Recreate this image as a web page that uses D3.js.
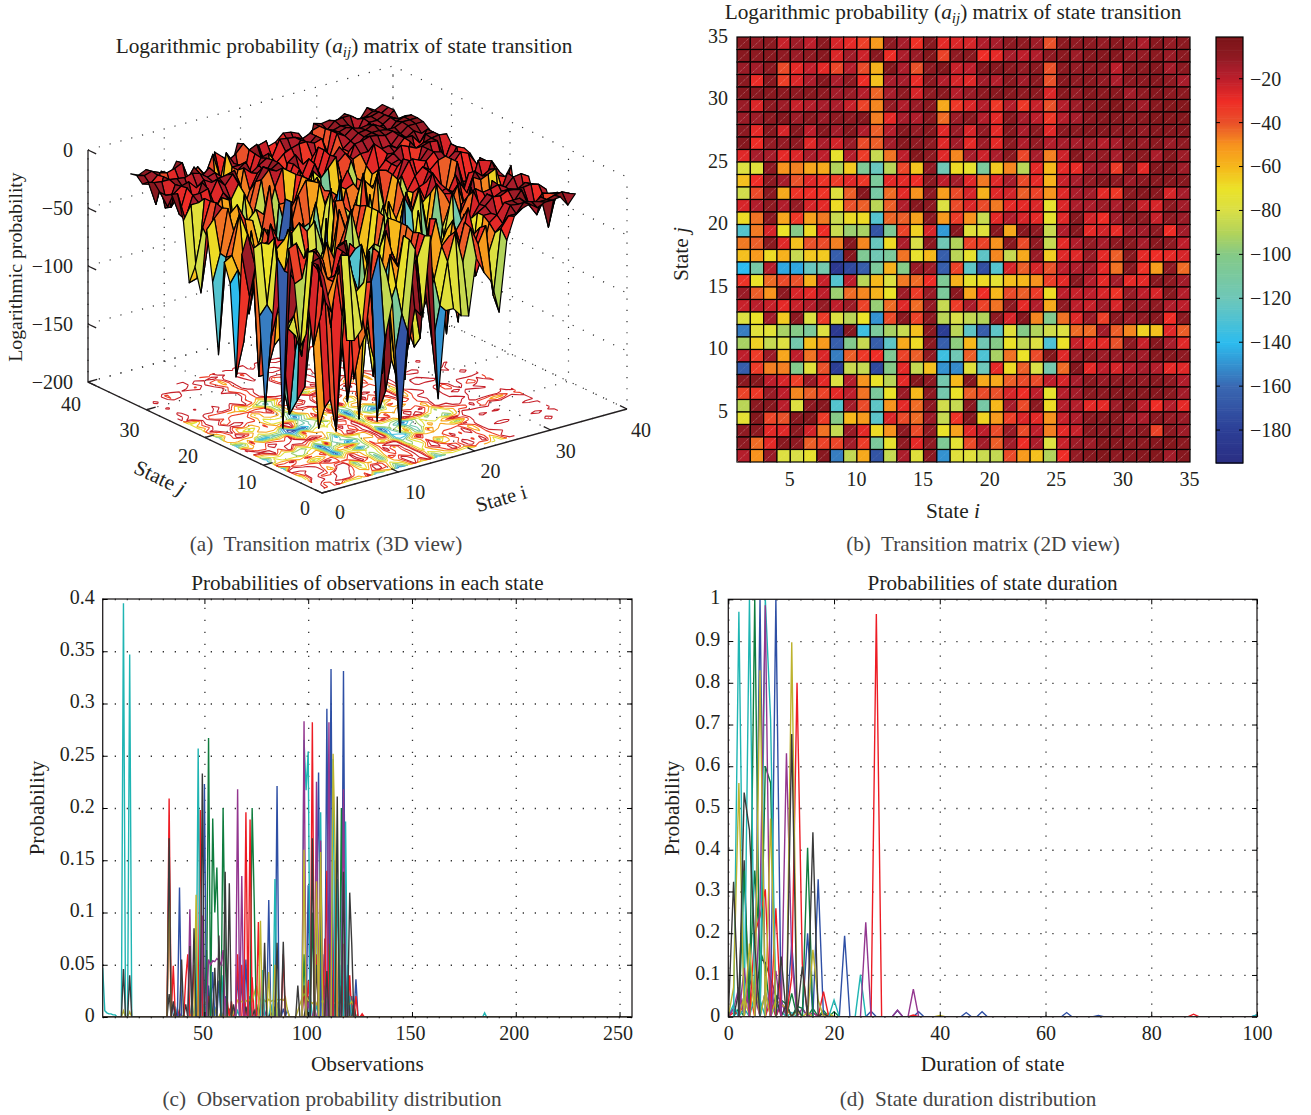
<!DOCTYPE html>
<html>
<head>
<meta charset="utf-8">
<script src="https://cdn.jsdelivr.net/npm/d3@7"></script>
<style>
  body { margin: 0; background: #fff; }
  text { font-family: "Liberation Serif", serif; fill: #231f20; white-space: pre; }
  .caption { fill: #444; }
</style>
</head>
<body>
<svg id="chart" width="1311" height="1115"></svg>
<script>
// log probability matrix, top row is state j = 34, columns are state i = 1..34
var aijRows = [
  [-8,-11,-8,-22,-13,-20,-8,-25,-28,-35,-52,-9,-15,-31,-7,-28,-26,-25,-17,-15,-9,-10,-13,-40,-8,-10,-9,-11,-7,-11,-16,-7,-11,-8],
  [-7,-9,-7,-10,-12,-10,-7,-26,-14,-23,-7,-30,-16,-12,-5,-36,-10,-8,-30,-28,-15,-20,-17,-10,-8,-13,-7,-6,-6,-11,-11,-8,-12,-8],
  [-12,-14,-8,-38,-28,-21,-28,-37,-18,-38,-58,-5,-16,-40,-8,-5,-22,-20,-6,-7,-8,-11,-8,-40,-8,-11,-9,-10,-20,-8,-8,-6,-14,-8],
  [-8,-29,-7,-35,-26,-16,-6,-16,-10,-30,-62,-15,-15,-29,-9,-18,-25,-27,-14,-18,-8,-14,-8,-40,-7,-10,-8,-11,-16,-9,-9,-6,-10,-15],
  [-6,-7,-7,-8,-9,-7,-9,-14,-12,-18,-43,-15,-10,-25,-10,-8,-18,-12,-9,-7,-7,-10,-8,-26,-7,-11,-6,-8,-7,-14,-10,-6,-9,-8],
  [-12,-26,-9,-13,-22,-18,-15,-16,-22,-36,-48,-11,-17,-12,-8,-56,-33,-26,-18,-33,-18,-33,-22,-40,-18,-13,-8,-7,-4,-8,-14,-7,-5,-5],
  [-12,-13,-8,-6,-13,-8,-12,-10,-9,-7,-47,-28,-15,-17,-7,-44,-13,-8,-18,-28,-7,-15,-20,-33,-18,-15,-9,-7,-7,-8,-8,-5,-5,-5],
  [-9,-28,-7,-25,-6,-20,-7,-14,-6,-17,-42,-18,-7,-11,-7,-27,-12,-25,-11,-28,-7,-16,-8,-27,-9,-8,-6,-7,-9,-7,-11,-6,-6,-6],
  [-6,-30,-11,-11,-9,-27,-16,-24,-12,-38,-42,-14,-7,-10,-10,-27,-14,-28,-13,-28,-9,-17,-11,-18,-15,-15,-13,-18,-15,-8,-12,-8,-12,-10],
  [-27,-15,-15,-28,-26,-16,-20,-72,-18,-34,-85,-45,-20,-5,-10,-27,-48,-15,-23,-16,-8,-37,-15,-47,-23,-6,-12,-11,-15,-8,-8,-16,-6,-13],
  [-78,-76,-9,-50,-47,-55,-56,-90,-64,-105,-122,-88,-37,-63,-10,-118,-68,-72,-108,-64,-48,-88,-28,-60,-28,-29,-14,-15,-34,-9,-28,-6,-6,-13],
  [-62,-30,-9,-15,-40,-27,-32,-34,-27,-33,-108,-28,-28,-30,-9,-20,-14,-27,-46,-27,-15,-38,-28,-58,-22,-15,-11,-6,-9,-12,-9,-7,-6,-7],
  [-82,-38,-8,-56,-32,-30,-32,-77,-42,-6,-112,-44,-28,-50,-9,-53,-38,-25,-58,-27,-24,-42,-36,-50,-27,-16,-14,-28,-33,-8,-6,-7,-25,-15],
  [-25,-17,-10,-17,-11,-25,-28,-68,-40,-42,-88,-42,-17,-6,-9,-78,-38,-26,-38,-46,-28,-28,-26,-72,-26,-16,-16,-13,-16,-8,-22,-25,-9,-14],
  [-68,-45,-8,-55,-33,-54,-46,-84,-68,-68,-128,-43,-42,-54,-8,-52,-34,-50,-84,-28,-17,-25,-28,-72,-27,-7,-24,-30,-14,-8,-10,-22,-9,-12],
  [-128,-46,-25,-70,-100,-68,-30,-84,-95,-92,-170,-106,-36,-66,-25,-148,-6,-76,-76,-6,-56,-7,-9,-84,-17,-6,-28,-24,-29,-14,-14,-9,-30,-14],
  [-46,-42,-8,-27,-62,-40,-38,-47,-6,-48,-122,-68,-16,-80,-8,-118,-90,-36,-36,-50,-7,-38,-10,-85,-28,-17,-11,-15,-9,-7,-15,-7,-10,-20],
  [-62,-52,-68,-58,-85,-64,-64,-165,-6,-105,-118,-108,-45,-72,-60,-165,-88,-72,-125,-48,-85,-56,-12,-65,-27,-27,-12,-28,-42,-7,-28,-30,-28,-25],
  [-140,-112,-18,-145,-145,-122,-115,-185,-175,-165,-108,-58,-100,-12,-13,-165,-36,-125,-172,-128,-25,-42,-25,-40,-20,-17,-14,-28,-45,-7,-32,-53,-9,-44],
  [-32,-70,-44,-38,-40,-58,-22,-128,-20,-88,-60,-78,-46,-44,-30,-105,-58,-72,-68,-74,-62,-60,-50,-35,-28,-7,-18,-28,-14,-28,-28,-7,-9,-14],
  [-12,-42,-50,-9,-25,-28,-20,-95,-44,-48,-58,-70,-13,-34,-12,-108,-7,-55,-30,-60,-38,-42,-34,-68,-20,-22,-20,-25,-32,-12,-20,-25,-7,-18],
  [-22,-19,-22,-28,-22,-18,-11,-20,-13,-36,-96,-44,-27,-44,-11,-85,-34,-16,-36,-45,-10,-28,-17,-56,-10,-20,-22,-14,-25,-8,-14,-10,-17,-20],
  [-78,-70,-14,-64,-9,-78,-34,-78,-88,-70,-150,-38,-8,-36,-8,-88,-80,-86,-90,-10,-25,-6,-48,-102,-45,-27,-12,-35,-9,-13,-10,-7,-30,-8],
  [-155,-76,-75,-92,-100,-108,-78,-185,-6,-135,-108,-92,-84,-62,-8,-182,-88,-125,-165,-125,-76,-100,-90,-82,-78,-44,-44,-14,-42,-48,-66,-62,-27,-42],
  [-92,-66,-85,-78,-115,-62,-52,-165,-102,-85,-165,-125,-56,-68,-8,-165,-98,-60,-118,-100,-70,-86,-78,-130,-70,-22,-28,-28,-40,-9,-22,-6,-15,-27],
  [-20,-34,-13,-55,-20,-45,-26,-155,-42,-33,-30,-105,-36,-42,-10,-135,-118,-42,-130,-92,-45,-70,-38,-5,-27,-13,-8,-13,-12,-10,-14,-7,-6,-10],
  [-165,-34,-47,-47,-102,-76,-40,-180,-84,-85,-175,-100,-28,-85,-62,-150,-152,-76,-120,-28,-68,-42,-80,-115,-44,-6,-28,-20,-25,-18,-15,-18,-28,-27],
  [-8,-5,-20,-25,-35,-12,-28,-78,-18,-50,-70,-88,-28,-5,-9,-115,-60,-6,-56,-56,-42,-38,-38,-20,-25,-15,-8,-12,-9,-9,-11,-7,-10,-17],
  [-36,-33,-12,-20,-48,-42,-36,-28,-20,-45,-108,-70,-12,-60,-9,-115,-70,-42,-38,-40,-25,-30,-20,-72,-18,-14,-8,-9,-6,-7,-7,-6,-8,-14],
  [-88,-8,-7,-19,-78,-9,-7,-128,-14,-38,-125,-50,-28,-44,-9,-82,-85,-8,-112,-60,-15,-38,-8,-68,-18,-18,-28,-28,-13,-5,-20,-30,-18,-28],
  [-74,-5,-37,-40,-7,-5,-34,-100,-60,-52,-126,-26,-38,-44,-12,-85,-32,-6,-66,-52,-35,-26,-28,-50,-22,-17,-8,-8,-8,-14,-16,-9,-11,-12],
  [-10,-8,-28,-27,-8,-24,-45,-85,-12,-28,-68,-50,-9,-38,-10,-70,-54,-27,-20,-38,-12,-38,-20,-47,-28,-22,-8,-9,-10,-12,-8,-36,-9,-13],
  [-10,-44,-28,-7,-9,-42,-36,-37,-14,-34,-108,-72,-10,-28,-10,-105,-74,-38,-14,-42,-14,-30,-16,-78,-22,-13,-13,-5,-6,-8,-8,-6,-5,-8],
  [-18,-50,-12,-78,-80,-72,-7,-155,-86,-56,-170,-85,-16,-76,-8,-150,-76,-76,-84,-86,-38,-52,-62,-90,-30,-11,-6,-4,-9,-6,-6,-5,-14,-6]
];

var colorStops = [-195, -180, -160, -140, -120, -100, -90, -80, -70, -60, -50, -40, -30, -20, -15, -10, -1];
var colorHexes = ['#2b2e83', '#2c3f96', '#3a68b2', '#2dbcee', '#6ec7b9', '#85ca87', '#b2d35a', '#d9df47', '#ebe228', '#f6b81b', '#f7931e', '#e9512a', '#ee2c26', '#bd1e2b', '#a71d2b', '#8f1a22', '#7b1418'];

var surfaceZTicks = [0, -50, -100, -150, -200];
var surfaceTicks = [0, 10, 20, 30, 40];
var contourLevels = [-175, -155, -135, -115, -95, -75, -55, -35, -22];
var heatTicks = [5, 10, 15, 20, 25, 30, 35];
var barTicks = [-20, -40, -60, -80, -100, -120, -140, -160, -180];

var obsXTicks = [50, 100, 150, 200, 250];
var obsYTicks = [0, 0.05, 0.1, 0.15, 0.2, 0.25, 0.3, 0.35, 0.4];
var durXTicks = [0, 20, 40, 60, 80, 100];
var durYTicks = [0, 0.1, 0.2, 0.3, 0.4, 0.5, 0.6, 0.7, 0.8, 0.9, 1];

// line colours in plotting order
var lineColors = ['#2e4fa5', '#0f7d3e', '#ed1c24', '#1fb5b3', '#93368f', '#bdb32e', '#3a3a3a'];

// observation probabilities: [observation, probability], anything not listed is 0
var obsBlue = [
  [[111,.333],[117,.331],[109,.295],[105,.234],[85,.221],[50,.223],[38,.124],[81,.112],[100,.126],[104,.092],[54,.043],[57,.035],[70,.055],[123,.036]],
  [[48,.055],[52,.03],[60,.02],[66,.04],[68,.035],[72,.02],[88,.008],[90,.007],[98,.03],[107,.06],[113,.118],[119,.05],[121,.02]]
];
var obsGreen = [
  [[52,.267],[54,.19],[55,.1],[56,.143],[57,.05],[59,.2],[60,.06],[73,.2],[74,.11],[116,.2],[106,.1],[98,.06],[102,.1],[110,.07]],
  [[47,.03],[50,.012],[62,.008],[76,.012],[84,.01],[100,.02],[108,.03],[112,.045],[118,.03],[122,.012]]
];
var obsRed = [
  [[33,.209],[35,.049],[48,.198],[70,.196],[72,.189],[102,.282],[66,.06],[68,.05],[76,.091],[88,.06],[42,.06],[41,.036],[113,.15],[109,.14],[117,.07],[123,.02],[126,.003]],
  [[33,.143],[37,.008],[45,.05],[52,.02],[61,.016],[63,.015],[69,.04],[73,.038],[78,.03],[98,.03],[100,.035],[104,.06],[108,.075],[120,.04]]
];
var obsCyan = [
  [[1,.047],[2,.006],[3,.004],[4,.003],[5,.003],[6,.002],[7,.002],[11,.396],[14,.347],[47,.257],[98,.265],[100,.254],[99,.217],[106,.196],[112,.247],[118,.187],[84,.132],[114,.132],[78,.045],[59,.04],[185,.004]],
  [[36,.01],[44,.014],[49,.016],[51,.012],[53,.014],[55,.01],[66,.006],[72,.006],[82,.012],[86,.008],[101,.02],[104,.012],[110,.05],[116,.05],[120,.02]]
];
var obsMagenta = [
  [[98,.283],[66,.218],[68,.135],[43,.103],[49,.097],[110,.282],[104,.225],[106,.169],[117,.218],[59,.064],[52,.055],[53,.05],[54,.054],[55,.053],[56,.056],[57,.054],[58,.05]],
  [[35,.012],[38,.004],[46,.02],[60,.018],[64,.006],[71,.012],[75,.008],[79,.006],[85,.014],[100,.014],[103,.01],[108,.022],[115,.012],[119,.01]]
];
var obsOlive = [
  [[33,.133],[46,.117],[77,.092],[98,.16],[106,.158],[112,.252],[104,.13],[113,.156],[84,.05],[81,.043]],
  [[11,.006],[14,.005],[40,.002],[44,.004],[46,.006],[50,.012],[51,.015],[53,.013],[55,.008],[58,.005],[60,.004],[64,.004],[65,.01],[66,.016],[67,.014],[68,.015],[69,.013],[70,.016],[71,.014],[72,.017],[73,.015],[74,.022],[75,.03],[76,.02],[77,.016],[78,.012],[79,.016],[80,.014],[81,.017],[82,.015],[83,.016],[84,.015],[85,.017],[86,.016],[87,.017],[88,.016],[89,.019],[90,.006],[95,.006],[96,.012],[97,.018],[98,.022],[99,.02],[100,.016],[101,.015],[102,.013],[103,.015],[104,.012],[105,.018],[106,.014],[107,.016],[108,.013],[109,.018],[110,.02],[111,.017],[112,.014],[113,.013],[114,.016],[115,.012],[116,.014],[117,.012],[118,.016],[119,.013],[120,.012],[121,.015],[122,.01]]
];
var obsDark = [
  [[33,.171],[49,.233],[11,.046],[14,.04],[45,.085],[43,.068],[39,.055],[60,.139],[62,.128],[57,.078],[55,.047],[79,.071],[85,.071],[88,.072],[102,.171],[114,.211],[120,.119],[121,.069],[117,.139],[95,.03],[109,.044],[35,.015]],
  [[33,.022],[36,.006],[41,.012],[47,.04],[51,.064],[53,.028],[64,.012],[70,.01],[74,.006],[82,.004],[99,.012],[104,.05],[111,.04],[116,.03],[119,.04],[122,.012]]
];

// state duration probabilities: [duration, probability]
var durBlue = [
  [[6,1],[9,1],[17,.329],[15,.2],[22,.194],[12,.174],[27,.013],[32,.015],[36,.012],[45,.01],[48,.012],[64,.01]],
  [[1,.02],[3,.05],[4,.03],[5,.08],[7,.06],[10,.04],[13,.02],[70,.003],[100,.004]]
];
var durGreen = [
  [[5,1],[7,.6],[8,.56],[15,.405],[3,.35],[12,.056]],
  [[2,.02],[4,.08],[5,.35],[6,.16],[7,.12],[9,.05],[10,.04],[11,.03],[13,.025],[14,.02],[16,.02],[18,.015],[20,.012]]
];
var durRed = [
  [[13,.8],[28,.965],[7,.305],[9,.26],[18,.06],[14,.126],[5,.2],[6,.24],[12,.096],[35,.004],[88,.006]],
  [[1,.01],[2,.008],[3,.03],[4,.06],[8,.04],[10,.03],[11,.02],[16,.01]]
];
var durCyan = [
  [[2,.97],[4,1],[7,1],[8,.712],[20,.04],[25,.1]],
  [[1,.03],[3,.02],[5,.05],[6,.04],[9,.03],[10,.012],[12,.01],[100,.004]]
];
var durMagenta = [
  [[7,.986],[11,.631],[26,.226],[35,.066],[32,.016],[6,.27],[9,.11],[12,.144],[3,.117]],
  [[1,.02],[2,.07],[4,.09],[5,.05],[8,.08],[10,.04],[14,.02],[16,.01]]
];
var durOlive = [
  [[12,.897],[6,.83],[2,.56],[8,.475],[16,.16],[4,.175],[1,.07],[17,.04]],
  [[3,.05],[5,.1],[7,.06],[9,.04],[10,.03],[11,.02],[13,.015],[15,.01],[19,.008],[40,.003]]
];
var durDark = [
  [[12,.677],[16,.442],[3,.537],[4,.447],[1,.323],[5,.172],[10,.144],[14,.12]],
  [[3,.375],[2,.06],[6,.14],[7,.13],[8,.09],[9,.05],[11,.03],[13,.02],[18,.008]]
];

var svg = d3.select('#chart');
var colorOf = d3.scaleLinear().domain(colorStops).range(colorHexes).clamp(true);

function minus(d) {
  return String(d).replace('-', '\u2212');
}

function title(cx, cy) {
  var t = svg.append('text').attr('x', cx).attr('y', cy).attr('text-anchor', 'middle').style('font-size', '21.3px');
  t.append('tspan').text('Logarithmic probability (');
  t.append('tspan').style('font-style', 'italic').text('a');
  t.append('tspan').style('font-style', 'italic').style('font-size', '15px').attr('dy', 4).text('ij');
  t.append('tspan').attr('dy', -4).text(') matrix of state transition');
}

function label(str, x, y, rotate, size, italicTail) {
  var t = svg.append('text')
    .attr('transform', 'translate(' + x + ',' + y + ')rotate(' + (rotate || 0) + ')')
    .attr('text-anchor', 'middle')
    .style('font-size', (size || 21.4) + 'px');
  t.append('tspan').text(str);
  if (italicTail) {
    t.append('tspan').style('font-style', 'italic').text(' ' + italicTail);
  }
  return t;
}

function drawSurface() {
  var i3x = d3.scaleLinear().domain([0, 40]).range([0, 305]);
  var i3y = d3.scaleLinear().domain([0, 40]).range([0, -84]);
  var j3x = d3.scaleLinear().domain([0, 40]).range([0, -234]);
  var j3y = d3.scaleLinear().domain([0, 40]).range([0, -111]);
  var z3 = d3.scaleLinear().domain([-200, 0]).range([0, -232]);

  function project(i, j, z) {
    return [322 + i3x(i) + j3x(j), 493 + i3y(i) + j3y(j) + z3(z)];
  }
  function value(i, j) {
    return aijRows[34 - j][i - 1];
  }
  var seg = d3.line();
  var g = svg.append('g');

  // dotted box walls and floor
  var gridLines = [];
  surfaceTicks.forEach(function (t) {
    gridLines.push([[t, 0, -200], [t, 40, -200], [t, 40, 0]]);
    gridLines.push([[0, t, -200], [40, t, -200], [40, t, 0]]);
  });
  surfaceZTicks.forEach(function (z) {
    gridLines.push([[0, 40, z], [40, 40, z], [40, 0, z]]);
  });
  g.append('g').selectAll('path').data(gridLines).enter().append('path')
    .attr('d', function (d) {
      return seg(d.map(function (p) { return project(p[0], p[1], p[2]); }));
    })
    .attr('fill', 'none')
    .attr('stroke', '#333')
    .attr('stroke-width', 1.2)
    .attr('stroke-dasharray', '1.2 10');

  // contour lines on the floor, the outline of the grid itself is skipped
  var n = aijRows[0].length;
  var flat = [];
  for (var row = 0; row < n; row++) {
    for (var col = 0; col < n; col++) {
      flat.push(value(col + 1, row + 1));
    }
  }
  var onEdge = function (p) {
    return p[0] <= 0 || p[0] >= n || p[1] <= 0 || p[1] >= n;
  };
  var floorPoint = function (p) {
    return project(Math.max(1, Math.min(n, p[0] + 0.5)), Math.max(1, Math.min(n, p[1] + 0.5)), -200);
  };
  var contours = d3.contours().size([n, n]).thresholds(contourLevels)(flat);
  g.append('g').selectAll('path').data(contours).enter().append('path')
    .attr('d', function (c) {
      var path = d3.path();
      c.coordinates.forEach(function (poly) {
        poly.forEach(function (ring) {
          ring.forEach(function (p, k) {
            if (k === 0) return;
            if (onEdge(p) && onEdge(ring[k - 1])) return;
            var a = floorPoint(ring[k - 1]);
            var b = floorPoint(p);
            path.moveTo(a[0], a[1]);
            path.lineTo(b[0], b[1]);
          });
        });
      });
      return path.toString();
    })
    .attr('fill', 'none')
    .attr('stroke', function (c) { return colorOf(c.value); })
    .attr('stroke-width', 1.1);

  // axes
  var axisG = g.append('g').attr('stroke', '#231f20').attr('fill', 'none');
  var axisLines = [
    [[0, 40, 0], [0, 40, -200], [0, 0, -200], [40, 0, -200]]
  ];
  surfaceTicks.forEach(function (t) {
    axisLines.push([[t, 0, -200], [t, 1.2, -200]]);
    axisLines.push([[0, t, -200], [1.2, t, -200]]);
  });
  surfaceZTicks.forEach(function (z) {
    axisLines.push([[0, 40, z], [0, 38.6, z]]);
  });
  axisG.selectAll('path').data(axisLines).enter().append('path')
    .attr('d', function (d) {
      return seg(d.map(function (p) { return project(p[0], p[1], p[2]); }));
    })
    .attr('stroke-width', 1.3);

  // faces back to front
  var faces = d3.cross(d3.range(n - 1, 0, -1), d3.range(n - 1, 0, -1));
  g.append('g').selectAll('path').data(faces).enter().append('path')
    .attr('d', function (d) {
      var i = d[0], j = d[1];
      return seg([
        project(i, j, value(i, j)),
        project(i + 1, j, value(i + 1, j)),
        project(i + 1, j + 1, value(i + 1, j + 1)),
        project(i, j + 1, value(i, j + 1))
      ]) + 'Z';
    })
    .attr('fill', function (d) { return colorOf(value(d[0], d[1])); })
    .attr('stroke', '#000')
    .attr('stroke-width', 1.2)
    .attr('stroke-linejoin', 'round');

  // tick labels
  surfaceTicks.forEach(function (t) {
    var pi = project(t, 0, -200);
    label(String(t), pi[0] + 18 - t * 0.1, pi[1] + 26 + t * 0.05, 0, 20);
    var pj = project(0, t, -200);
    label(String(t), pj[0] - 17, pj[1] + 22 + t * 0.175, 0, 20);
  });
  surfaceZTicks.forEach(function (z) {
    var p = project(0, 40, z);
    svg.append('text').attr('x', p[0] - 15).attr('y', p[1] + 7)
      .attr('text-anchor', 'end').style('font-size', '20px').text(minus(z));
  });

  label('State', 157, 484, 25, 21.4, 'j');
  label('State i', 503, 505, -16, 20.5);
  label('Logarithmic probability', 22, 267, -90, 19.8);
  title(344, 53);
  label('(a)  Transition matrix (3D view)', 326, 551, 0, 21.2).classed('caption', true);
}

function drawHeatmap() {
  var x = d3.scaleLinear().domain([1, 35]).range([737, 1190]);
  var y = d3.scaleLinear().domain([1, 35]).range([462, 37]);
  var cells = [];
  aijRows.forEach(function (row, r) {
    row.forEach(function (v, c) {
      cells.push({ i: c + 1, j: 34 - r, v: v });
    });
  });
  var g = svg.append('g');
  var cell = g.selectAll('g').data(cells).enter().append('g');
  cell.append('rect')
    .attr('x', function (d) { return x(d.i); })
    .attr('y', function (d) { return y(d.j + 1); })
    .attr('width', x(2) - x(1))
    .attr('height', y(1) - y(2))
    .attr('fill', function (d) { return colorOf(d.v); })
    .attr('stroke', '#000')
    .attr('stroke-width', 1.2);
  cell.append('line')
    .attr('x1', function (d) { return x(d.i); })
    .attr('y1', function (d) { return y(d.j); })
    .attr('x2', function (d) { return x(d.i + 1); })
    .attr('y2', function (d) { return y(d.j + 1); })
    .attr('stroke', '#fff')
    .attr('stroke-opacity', function (d) { return d.v > -45 ? 0.55 : 0.2; })
    .attr('stroke-width', 0.7)
    .attr('stroke-dasharray', '1 1');

  var xAxis = d3.axisBottom(x).tickValues(heatTicks).tickSize(0).tickPadding(10);
  var yAxis = d3.axisLeft(y).tickValues(heatTicks.concat([])).tickSize(0).tickPadding(9);
  styleAxis(svg.append('g').attr('transform', 'translate(0,462)').call(xAxis), -1, 0);
  styleAxis(svg.append('g').attr('transform', 'translate(737,0)').call(yAxis), 0, -1);

  label('State', 953, 518, 0, 21.4, 'i');
  label('State', 688, 254, -90, 21.4, 'j');
  title(953, 19);
  label('(b)  Transition matrix (2D view)', 983, 551, 0, 21.2).classed('caption', true);

  // colour bar
  var yc = d3.scaleLinear().domain([-195, -1]).range([463, 37]);
  var bar = svg.append('g');
  bar.selectAll('rect').data(d3.range(-195, -1)).enter().append('rect')
    .attr('x', 1216)
    .attr('y', function (d) { return yc(d + 1); })
    .attr('width', 27)
    .attr('height', yc(0) - yc(1) + 0.6)
    .attr('fill', function (d) { return colorOf(d + 0.5); });
  bar.append('rect').attr('x', 1216).attr('y', 37).attr('width', 27).attr('height', 426)
    .attr('fill', 'none').attr('stroke', '#000').attr('stroke-width', 1.2);
  var barAxis = d3.axisRight(yc).tickValues(barTicks).tickSize(0).tickPadding(7).tickFormat(minus);
  styleAxis(svg.append('g').attr('transform', 'translate(1243,0)').call(barAxis));
  bar.selectAll('.bartick').data(barTicks).enter().append('path')
    .attr('d', function (d) {
      return 'M1216,' + yc(d) + 'h4M1243,' + yc(d) + 'h-4';
    })
    .attr('stroke', '#000');
}

function styleAxis(sel, dx, dy) {
  sel.select('.domain').remove();
  sel.selectAll('text')
    .style('font-size', '20px')
    .style('font-family', '"Liberation Serif", serif')
    .attr('fill', '#231f20')
    .attr('transform', 'translate(' + (dx || 0) + ',' + (dy || 0) + ')');
  return sel;
}

function peaksToLine(peaks, domain) {
  var lookup = new Map(peaks);
  return d3.range(domain[0], domain[1] + 1).map(function (x) {
    return [x, lookup.get(x) || 0];
  });
}

function drawLines(opts) {
  var x = d3.scaleLinear().domain(opts.xDomain).range([opts.left, opts.right]);
  var y = d3.scaleLinear().domain(opts.yDomain).range([opts.bottom, opts.top]);
  var g = svg.append('g');
  var clipId = opts.id + '-clip';
  g.append('clipPath').attr('id', clipId).append('rect')
    .attr('x', opts.left).attr('y', opts.top)
    .attr('width', opts.right - opts.left).attr('height', opts.bottom - opts.top);

  var gridFormat = function () { return ''; };
  var gridX = g.append('g').attr('transform', 'translate(0,' + opts.bottom + ')')
    .call(d3.axisBottom(x).tickValues(opts.xTicks).tickSize(opts.top - opts.bottom).tickFormat(gridFormat));
  var gridY = g.append('g').attr('transform', 'translate(' + opts.left + ',0)')
    .call(d3.axisLeft(y).tickValues(opts.yTicks).tickSize(opts.left - opts.right).tickFormat(gridFormat));
  [gridX, gridY].forEach(function (s) {
    s.select('.domain').remove();
    s.selectAll('line').attr('stroke', '#333').attr('stroke-width', 1.3).attr('stroke-dasharray', '1.3 10.7');
  });

  var lineGen = d3.line()
    .x(function (d) { return x(d[0]); })
    .y(function (d) { return y(d[1]); });
  var lines = [];
  [1, 0].forEach(function (round) {
    opts.series.forEach(function (group, c) {
      lines.push({ color: lineColors[c], points: peaksToLine(group[round], opts.xDomain) });
    });
  });
  g.append('g').attr('clip-path', 'url(#' + clipId + ')')
    .selectAll('path').data(lines).enter().append('path')
    .attr('d', function (d) { return lineGen(d.points); })
    .attr('fill', 'none')
    .attr('stroke', function (d) { return d.color; })
    .attr('stroke-width', 1.4);

  // frame with inward ticks
  g.append('rect').attr('x', opts.left).attr('y', opts.top)
    .attr('width', opts.right - opts.left).attr('height', opts.bottom - opts.top)
    .attr('fill', 'none').attr('stroke', '#231f20').attr('stroke-width', 1.3);
  var bottomAxis = d3.axisBottom(x).tickValues(opts.xTicks).tickSizeInner(-5).tickSizeOuter(0).tickPadding(9).tickFormat(function (d) { return d; });
  var leftAxis = d3.axisLeft(y).tickValues(opts.yTicks).tickSizeInner(-5).tickSizeOuter(0).tickPadding(8).tickFormat(function (d) { return d; });
  styleAxis(g.append('g').attr('transform', 'translate(0,' + opts.bottom + ')').call(bottomAxis), opts.xLabelShift, 0);
  styleAxis(g.append('g').attr('transform', 'translate(' + opts.left + ',0)').call(leftAxis), 0, -2);
  g.append('g').attr('transform', 'translate(' + opts.right + ',0)')
    .call(d3.axisRight(y).tickValues(opts.yTicks).tickSizeInner(-5).tickSizeOuter(0).tickFormat(function () { return ''; }))
    .select('.domain').remove();
  g.append('g').attr('transform', 'translate(0,' + opts.top + ')')
    .call(d3.axisTop(x).tickValues(opts.xTicks).tickSizeInner(-5).tickSizeOuter(0).tickFormat(function () { return ''; }))
    .select('.domain').remove();

  label(opts.title, (opts.left + opts.right) / 2, opts.top - 9, 0, 21.2);
  label(opts.xLabel, (opts.left + opts.right) / 2, opts.bottom + 54, 0);
  label('Probability', opts.yLabelX, (opts.top + opts.bottom) / 2, -90);
  label(opts.caption, opts.captionX, 1106, 0, 21.2).classed('caption', true);
}

drawSurface();
drawHeatmap();
drawLines({
  id: 'obs', left: 102.7, right: 632, top: 599, bottom: 1017,
  xDomain: [1, 256], yDomain: [0, 0.4], xTicks: obsXTicks, yTicks: obsYTicks,
  series: [obsBlue, obsGreen, obsRed, obsCyan, obsMagenta, obsOlive, obsDark],
  title: 'Probabilities of observations in each state',
  xLabel: 'Observations', xLabelShift: -2, yLabelX: 44,
  caption: '(c)  Observation probability distribution', captionX: 332
});
drawLines({
  id: 'dur', left: 728.3, right: 1257, top: 599.3, bottom: 1016.7,
  xDomain: [0, 100], yDomain: [0, 1], xTicks: durXTicks, yTicks: durYTicks,
  series: [durBlue, durGreen, durRed, durCyan, durMagenta, durOlive, durDark],
  title: 'Probabilities of state duration',
  xLabel: 'Duration of state', xLabelShift: 0, yLabelX: 679,
  caption: '(d)  State duration distribution', captionX: 968
});
</script>
</body>
</html>
